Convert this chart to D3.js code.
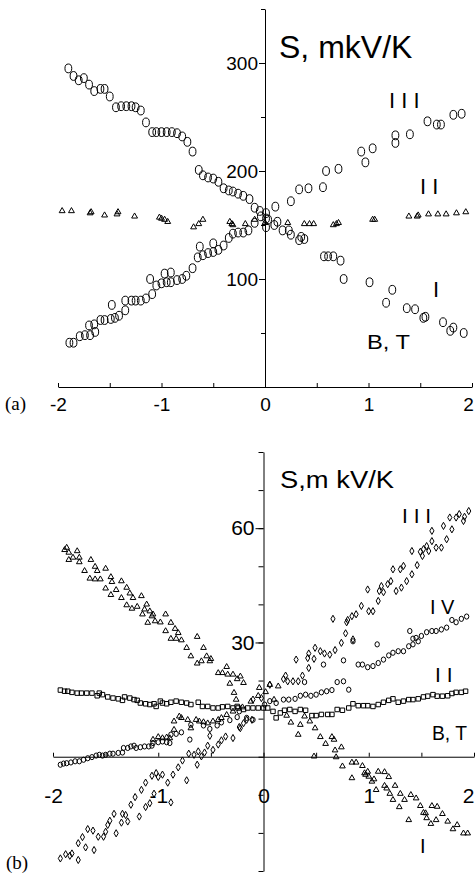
<!DOCTYPE html>
<html>
<head>
<meta charset="utf-8">
<script src="https://cdn.jsdelivr.net/npm/d3@7"></script>
<style>
body { margin: 0; background: #fff; }
svg { display: block; }
text { font-family: Arial, "Liberation Sans", sans-serif; fill: #000; }
</style>
</head>
<body>
<svg id="chart" width="475" height="876"></svg>
<script>
// ---- Data: panel (a), [B (T), S (mkV/K)]
const aCurveI = [[-1.90,295],[-1.85,288],[-1.80,284],[-1.75,286],[-1.70,280],[-1.65,274],[-1.59,276],[-1.55,276],[-1.50,269],[-1.44,259],[-1.39,260],[-1.34,260],[-1.29,260],[-1.25,259],[-1.20,256],[-1.15,245],[-1.09,236],[-1.05,236],[-1.00,236],[-0.95,236],[-0.90,236],[-0.85,235],[-0.80,232],[-0.75,227],[-0.70,218],[-0.64,201],[-0.60,196],[-0.55,194],[-0.50,193],[-0.45,190],[-0.40,184],[-0.35,182],[-0.31,181],[-0.26,179],[-0.21,177],[-0.15,174],[-0.10,166],[-0.05,163],[0.01,161],[0.01,156],[0.01,148],[0.09,150],[0.12,153],[0.17,145],[0.23,145],[0.25,141],[0.33,136],[0.35,139],[0.38,137],[0.57,121],[0.61,121],[0.66,121],[0.73,117],[0.76,100],[1.01,97],[1.17,78],[1.23,90],[1.37,73],[1.45,72],[1.53,64],[1.55,65],[1.72,60],[1.79,52],[1.82,55],[1.92,50]]
const aCurveII = [[-1.96,163],[-1.87,163],[-1.69,161],[-1.68,162],[-1.55,159],[-1.43,160],[-1.42,162],[-1.26,158],[-1.02,157],[-1.00,156],[-0.97,155],[-0.94,153],[-0.69,148],[-0.64,151],[-0.60,155],[-0.34,153],[-0.32,151],[-0.31,150],[-0.19,151],[-0.10,155],[0.00,152],[0.22,152],[0.38,151],[0.43,151],[0.47,151],[0.66,150],[0.69,151],[0.71,152],[1.04,155],[1.06,155],[1.39,158],[1.47,158],[1.48,159],[1.58,160],[1.67,160],[1.75,160],[1.85,161],[1.94,162]]
const aCurveIII = [[-1.89,41],[-1.85,41],[-1.79,47],[-1.74,48],[-1.69,48],[-1.70,57],[-1.65,58],[-1.64,51],[-1.59,62],[-1.55,62],[-1.49,63],[-1.45,64],[-1.41,66],[-1.48,76],[-1.35,71],[-1.35,80],[-1.29,80],[-1.25,80],[-1.20,80],[-1.15,82],[-1.09,86],[-1.11,100],[-1.05,94],[-1.00,96],[-0.97,105],[-0.95,97],[-0.91,97],[-0.91,106],[-0.85,99],[-0.80,100],[-0.76,103],[-0.70,110],[-0.65,120],[-0.63,130],[-0.60,122],[-0.55,124],[-0.50,133],[-0.50,125],[-0.45,127],[-0.40,131],[-0.35,138],[-0.31,142],[-0.26,143],[-0.21,143],[-0.16,145],[-0.10,152],[-0.04,158],[0.03,155],[0.10,167],[0.25,172],[0.33,183],[0.42,184],[0.56,185],[0.59,200],[0.71,202],[0.93,218],[0.97,208],[1.04,221],[1.26,226],[1.26,233],[1.40,234],[1.57,246],[1.66,243],[1.70,243],[1.82,252],[1.90,253]]

// ---- Data: panel (b)
const bCurveI = [[-1.89,54.3],[-1.87,54.9],[-1.85,53.6],[-1.85,51.7],[-1.81,52.3],[-1.77,54],[-1.75,52.3],[-1.75,51.1],[-1.70,48.8],[-1.64,51.7],[-1.65,46.8],[-1.60,49.9],[-1.58,48.8],[-1.60,46.6],[-1.55,46.6],[-1.50,49.4],[-1.50,44.2],[-1.45,47.2],[-1.44,45.9],[-1.45,42.5],[-1.40,43.8],[-1.35,46.1],[-1.35,41.7],[-1.30,44.4],[-1.30,39.8],[-1.27,42.9],[-1.24,41.7],[-1.25,38.9],[-1.20,39.4],[-1.16,42.2],[-1.15,37.4],[-1.13,38.7],[-1.11,40],[-1.10,35.2],[-1.08,38.2],[-1.06,36.9],[-1.05,37.4],[-1.03,35.6],[-0.98,35.3],[-0.93,37.4],[-0.93,33],[-0.88,35.2],[-0.88,31],[-0.84,33.6],[-0.83,31],[-0.81,32.5],[-0.78,30.6],[-0.63,31.5],[-0.73,28.6],[-0.57,28.6],[-0.69,26.4],[-0.63,24.5],[-0.59,25.1],[-0.54,26.4],[-0.51,25.1],[-0.50,25.7],[-0.43,22],[-0.39,22],[-0.35,23.6],[-0.34,21.6],[-0.32,19.2],[-0.29,21.6],[-0.28,16.8],[-0.25,20.4],[-0.22,21.1],[-0.19,19.4],[-0.26,15],[-0.04,18.1],[0.06,18.9],[0.14,18.5],
  [0.22,10.8],[0.26,9],[0.33,5.8],[0.35,8.4],[0.39,10.6],[0.44,9.3],[0.49,7.5],[0.48,0.1],[0.54,5.2],[0.59,3.4],[0.65,5.2],[0.68,1.7],[0.69,-0.1],[0.67,4.5],[0.74,2.5],[0.75,-2.5],[0.84,-1.5],[0.84,-5.6],[0.88,-1.5],[0.94,-2.4],[0.96,-4.3],[0.97,-4.7],[0.99,-3.9],[1.00,-5.2],[1.03,-6.5],[1.05,-5.9],[1.07,-8.7],[1.09,-3.9],[1.15,-4],[1.15,-7.6],[1.17,-8.3],[1.19,-5.3],[1.20,-9.7],[1.23,-11.3],[1.25,-7.6],[1.29,-13.2],[1.30,-9.7],[1.34,-11.3],[1.38,-16.6],[1.40,-10],[1.45,-10.9],[1.49,-12.9],[1.52,-14.7],[1.54,-14.8],[1.55,-16.1],[1.59,-17.6],[1.60,-12.9],[1.64,-16.6],[1.65,-13.1],[1.70,-15],[1.75,-17],[1.80,-19],[1.84,-17.9],[1.90,-20.1],[1.94,-20.1],
  [-1.05,4.5],[-1.00,5.2],[-0.96,4.9],[-0.92,5.1],[-0.89,4.9],[-0.85,7.1],[-0.85,9.3],[-0.80,10.6],[-0.78,10.2],[-0.72,9.7],[-0.69,7.5],[-0.64,9.7],[-0.61,9.3],[-0.57,9.1],[-0.53,8.8],[-0.48,9.3],[-0.43,9.7],[-0.40,10.2],[-0.35,11],[-0.29,11.9],[-0.20,13],[-0.12,14.5],[-0.05,16],[0.02,17],[0.10,15]]
const bCurveII = [[-1.93,17.5],[-1.89,17.2],[-1.86,17.2],[-1.82,16.9],[-1.77,16.7],[-1.73,16.7],[-1.68,16.7],[-1.63,16.7],[-1.58,16],[-1.56,16.7],[-1.53,16.3],[-1.48,15.7],[-1.43,15.4],[-1.38,15.2],[-1.34,14.8],[-1.32,15.7],[-1.27,15.4],[-1.23,15],[-1.20,14.8],[-1.17,14.1],[-1.12,13.9],[-1.08,13.7],[-1.04,13.9],[-1.02,13.2],[-0.98,14.6],[-0.96,14.1],[-0.92,13.9],[-0.88,14.3],[-0.83,14.6],[-0.78,14.3],[-0.73,14.1],[-0.69,13.7],[-0.62,14.3],[-0.58,13.2],[-0.53,13.2],[-0.48,12.8],[-0.43,12.8],[-0.39,13.1],[-0.34,13.2],[-0.29,12.8],[-0.25,13.2],[-0.24,12.8],[-0.19,12.4],[-0.15,12.8],[-0.10,12.8],[-0.05,12.8],[0.00,12.8],[0.04,12.8],[0.09,11.9],[0.12,10.2],[0.16,11.5],[0.20,12.2],[0.25,12.4],[0.30,11.9],[0.35,12.4],[0.40,12.2],[0.46,10.8],[0.50,10.8],[0.55,11.1],[0.61,11.1],[0.65,11.1],[0.70,12.4],[0.75,12.2],[0.81,12.8],[0.85,13.9],[0.90,13.4],[0.95,13.4],[0.99,13.4],[1.04,13.2],[1.09,13.7],[1.14,14.3],[1.19,14.8],[1.23,15.2],[1.28,14.3],[1.33,14.6],[1.38,15],[1.42,15],[1.47,15.2],[1.52,15.7],[1.56,15.9],[1.61,16.3],[1.65,15.9],[1.70,15.9],[1.75,16],[1.79,16.6],[1.83,16.9],[1.88,16.9],[1.92,17.2]]
const bCurveIII = [[-1.93,-26.7],[-1.88,-25.6],[-1.84,-26],[-1.82,-25.4],[-1.76,-27.1],[-1.76,-22.7],[-1.72,-21.1],[-1.69,-23.8],[-1.67,-19],[-1.62,-19.4],[-1.61,-24.5],[-1.57,-21],[-1.52,-21],[-1.50,-19.7],[-1.48,-17.9],[-1.46,-16.8],[-1.42,-15],[-1.40,-20.1],[-1.35,-17.3],[-1.34,-15],[-1.31,-15.3],[-1.29,-17],[-1.26,-12.6],[-1.22,-10.6],[-1.18,-15.7],[-1.16,-8.7],[-1.12,-6.8],[-1.12,-13.2],[-1.08,-12.2],[-1.06,-5],[-1.02,-4.3],[-1.00,-5.3],[-0.96,-4.7],[-1.04,-9.7],[-0.91,-6.8],[-0.88,-12],[-0.86,-4.7],[-0.81,-2.8],[-0.77,-1],[-0.73,-6.2],[-0.71,0.8],[-0.66,0.5],[-0.63,-2.1],[-0.62,1.4],[-0.59,0.1],[-0.56,1.1],[-0.53,2.9],[-0.51,5.5],[-0.48,1.8],[-0.43,3.2],[-0.40,4.3],[-0.36,5.3],[-0.29,4.9],[-0.23,7.8],[-0.22,7.5],[-0.19,8.8],[-0.16,9.7],[-0.11,9.7],[-0.10,15],[-0.02,15.4],[0.06,18.9],[0.19,20.4],[0.21,21.3],[0.23,19.8],[0.28,19.8],[0.33,19.8],[0.37,21.3],[0.31,25.5],[0.42,25.9],[0.43,27.1],[0.43,23.3],[0.48,25.7],[0.49,28.6],[0.54,27.7],[0.58,27.1],[0.63,26.8],[0.68,28],[0.74,29.9],[0.66,36.2],[0.79,35.3],[0.80,35.9],[0.84,36.9],[0.88,37.4],[0.93,39.6],[0.85,30.8],[0.78,32.4],[0.99,43.9],[1.00,38.2],[1.04,38.2],[1.09,40.9],[1.10,43.5],[1.14,43.2],[1.12,44.8],[1.18,45.3],[1.21,46.1],[1.23,49.2],[1.26,43.5],[1.31,44.4],[1.30,49.2],[1.33,50.1],[1.36,46.1],[1.41,47.9],[1.41,54],[1.46,50.3],[1.49,53.8],[1.51,52.7],[1.52,54.5],[1.55,55.3],[1.57,54],[1.60,59.3],[1.60,56.6],[1.64,54.9],[1.69,54.9],[1.71,60.6],[1.74,57.1],[1.77,62.8],[1.79,59.7],[1.83,62.8],[1.86,63.7],[1.90,61.9],[1.91,63],[1.95,64.5]]
const bCurveIV = [[-1.93,-2.1],[-1.90,-1.8],[-1.87,-1.7],[-1.83,-1.5],[-1.79,-1.2],[-1.75,-1.2],[-1.71,-0.8],[-1.67,-0.4],[-1.63,-0.1],[-1.59,0.3],[-1.56,0.5],[-1.53,0.3],[-1.50,0.5],[-1.46,0.8],[-1.43,0.8],[-1.38,1],[-1.34,1.1],[-1.33,2.3],[-1.29,2.3],[-1.26,2.7],[-1.23,2.9],[-1.21,2.3],[-1.17,2.5],[-1.13,2.7],[-1.09,2.7],[-1.06,2.9],[-1.05,3.6],[-1.00,3.8],[-0.96,4],[-0.92,3.8],[-0.89,3.6],[-0.88,5.8],[-0.83,6],[-0.78,6.4],[-0.70,4.5],[-0.69,8.4],[-0.57,8.2],[-0.51,7.3],[-0.44,8.2],[-0.40,9],[-0.32,9.6],[-0.25,10.4],[-0.23,11.9],[-0.16,10.2],[-0.10,9.7],[0.01,13.7],[0.06,14.6],[0.12,14.1],[0.19,15],[0.24,15],[0.30,15.2],[0.35,16],[0.40,16.3],[0.45,16],[0.50,16.3],[0.55,16.9],[0.60,17.2],[0.65,17.5],[0.70,19.6],[0.76,19.8],[0.81,17.6],[0.39,19.6],[0.57,24.2],[0.76,25.3],[0.90,24.2],[0.94,24.2],[0.99,23.5],[1.04,23.8],[1.09,24.6],[1.14,25.5],[1.19,26.6],[1.23,27.3],[1.28,27.7],[1.33,27.7],[1.38,29],[1.42,29.5],[1.47,30.3],[1.08,29.5],[0.85,30.3],[1.39,33],[1.42,31],[1.45,31.2],[1.50,31.7],[1.55,32.7],[1.60,33],[1.64,33],[1.69,33.4],[1.74,33.9],[1.79,35.9],[1.83,35.3],[1.88,36.2],[1.93,36.8]]

// ---- Ticks and labels
const xTickLabels = [-2, -1, 0, 1, 2]
const xTickMarks = [-2, -1.5, -1, -0.5, 0, 0.5, 1, 1.5, 2]
const aYLabels = [100, 200, 300]
const aYMarks = [0, 50, 100, 150, 200, 250, 300, 350]
const bYLabels = [30, 60]
const bYMarks = [-30, -20, -10, 0, 10, 20, 30, 40, 50, 60, 70, 80]

const svg = d3.select('#chart')
const font = 'Arial, Liberation Sans, sans-serif'

// Axes through the origin: minor/major ticks left on y, inward ticks on x
const drawAxes = (g, x, y, o) => {
    g.append('g')
        .attr('transform', `translate(${x(0)},0)`)
        .call(d3.axisLeft(y).tickValues(o.yMarks).tickSize(o.minor).tickSizeOuter(0).tickFormat(''))
    g.append('g')
        .attr('transform', `translate(${x(0)},0)`)
        .call(d3.axisLeft(y).tickValues(o.yLabels).tickSize(o.major).tickPadding(1).tickFormat(d => String(d)))
        .call(a => a.select('.domain').remove())
        .attr('font-family', font).attr('font-size', o.fs)
    const xl = g.append('g')
        .attr('transform', `translate(0,${y(0)})`)
        .call(d3.axisBottom(x).tickValues(xTickLabels).tickSize(0).tickPadding(o.xPad).tickFormat(d => String(d)))
        .call(a => a.select('.domain').remove())
        .attr('font-family', font).attr('font-size', o.fs)
    // last label sits on the page edge, keep it just inside
    xl.selectAll('.tick text').filter(d => d === 2).attr('dx', o.lastDx)
    g.append('g')
        .attr('transform', `translate(0,${y(0)})`)
        .call(d3.axisBottom(x).tickValues(xTickMarks).tickSize(-4).tickSizeOuter(0).tickFormat(''))
    g.selectAll('.domain, .tick line').attr('stroke', '#000').attr('stroke-width', 1)
    g.selectAll('.tick text').attr('fill', '#000')
}

const markers = (g, data, x, y, shape, cls) => {
    const s = g.append('g').attr('fill', 'none').attr('stroke', '#000').attr('stroke-width', 1)
    if (shape.rx) {
        s.selectAll(`ellipse.${cls}`).data(data).join('ellipse')
            .attr('class', cls)
            .attr('cx', d => x(d[0])).attr('cy', d => y(d[1]))
            .attr('rx', shape.rx).attr('ry', shape.ry)
    } else {
        s.selectAll(`path.${cls}`).data(data).join('path')
            .attr('class', cls)
            .attr('transform', d => `translate(${x(d[0])},${y(d[1])})`)
            .attr('d', d3.symbol(shape.type, shape.size))
    }
}

const label = (t, x, y, size, opts = {}) => {
    const el = svg.append('text').attr('x', x).attr('y', y).attr('font-size', size).text(t)
    if (opts.serif) el.style('font-family', '"Liberation Serif", "Times New Roman", serif')
    if (opts.len) el.attr('textLength', opts.len).attr('lengthAdjust', 'spacingAndGlyphs')
    return el
}

// ---- Panel (a)
const xA = d3.scaleLinear().domain([-2, 2]).range([58, 472])
const yA = d3.scaleLinear().domain([0, 350]).range([387, 9])
const gA = svg.append('g').attr('class', 'panel-a')
drawAxes(gA, xA, yA, { yMarks: aYMarks, yLabels: aYLabels, minor: 4, major: 6, fs: 19, xPad: 11, lastDx: -4 })
markers(gA, aCurveII, xA, yA, { type: d3.symbolTriangle, size: 15 }, 'c2')
markers(gA, aCurveI, xA, yA, { rx: 3.4, ry: 4.4 }, 'c1')
markers(gA, aCurveIII, xA, yA, { rx: 3.4, ry: 4.4 }, 'c3')

label('S, mkV/K', 279, 58, 32)
label('I I I', 389, 108, 22)
label('I I', 420, 194, 22)
label('I', 433, 297, 22)
label('B, T', 367, 349, 21, { len: 43 })
label('(a)', 5, 410, 19, { serif: true })

// ---- Panel (b)
const xB = d3.scaleLinear().domain([-2, 2]).range([53, 474])
const yB = d3.scaleLinear().domain([-30, 80]).range([871, 452])
const gB = svg.append('g').attr('class', 'panel-b')
drawAxes(gB, xB, yB, { yMarks: bYMarks, yLabels: bYLabels, minor: 5, major: 8, fs: 21, xPad: 31, lastDx: -6 })
markers(gB, bCurveII, xB, yB, { type: d3.symbolSquare, size: 20 }, 'c2')
markers(gB, bCurveIV, xB, yB, { rx: 2.2, ry: 2.6 }, 'c4')
markers(gB, bCurveIII, xB, yB, { type: d3.symbolDiamond, size: 15 }, 'c3')
markers(gB, bCurveI, xB, yB, { type: d3.symbolTriangle, size: 14 }, 'c1')

label('S,m kV/K', 280, 488, 23, { len: 114 })
label('I I I', 402, 523, 21)
label('I V', 430, 614, 20)
label('I I', 435, 682, 21)
label('B, T', 432, 740, 21, { len: 35 })
label('I', 420, 853, 20)
label('(b)', 6, 869, 19, { serif: true })
</script>
</body>
</html>
